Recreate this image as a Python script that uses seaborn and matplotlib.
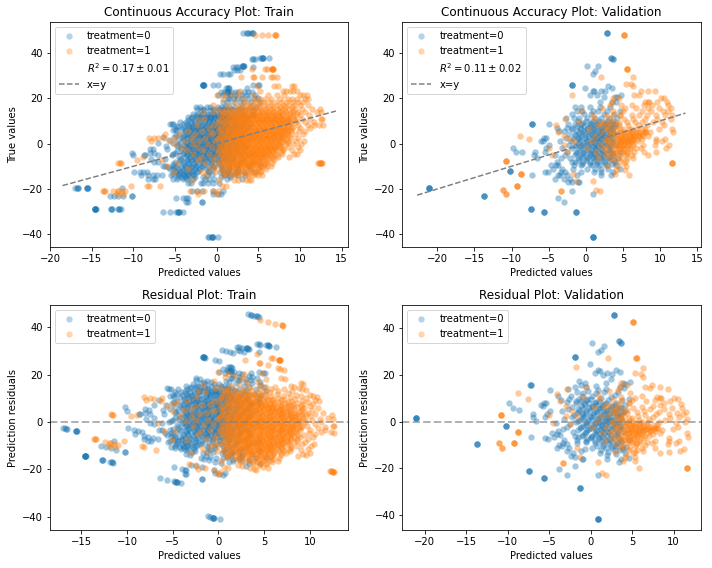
import matplotlib
matplotlib.use("Agg")
import matplotlib.pyplot as plt
from matplotlib.lines import Line2D
import pandas as pd
import seaborn as sns

# Observed outcome levels and the model predictions recorded at each level.
train0_true = [48.8, 37.8, 37.2, 34.2, 33.8, 32.5, 30.8, 25.7, 24.5, 22.8, 21.3, 20, 18.2, 16, 14.6, 13.2,
               11.8, 10.4, 8.6, 7.2, 5.8, 4.4, 3, 1.6, 0.2, -1.2, -2.6, -4, -5.2, -6.6, -8, -9.8, -11.2,
               -12.6, -14, -15.6, -17.2, -19.5, -21, -22, -23, -24, -25.7, -28.8, -30, -41]
train0_pred = [
    [3.2, 3.6, 3.9, 4.2, 4.4],
    [5.2, 5.4, 5.5, 6.3],
    [4.2, 4.4, 4.6],
    [3.0, 3.1, 3.3],
    [2.0, 2.3, 2.6, 4.4],
    [2.1, 2.4, 2.8],
    [0.4, 0.8, 1.3, 1.6],
    [-1.7, -1.6, -1.5, -0.4, 0.1, 4.4, 4.9, 5.1],
    [1.1, 1.3, 1.4, 1.5, 3.6],
    [0.5, 0.9, 1.2, 1.4, 1.7, 2.2, 2.6, 3.3, 3.7, 4.2],
    [0.1, 0.7, 1.6, 2.2, 3.0, 3.6, 4.6],
    [1.4, 1.5, 2.1, 2.4, 3.0, 3.7, 4.5, 5.0],
    [0.8, 1.2, 1.9, 2.8, 3.3, 4.1, 5.2],
    [-2.5, -2.0, -1.2, -0.8, 0.1, 0.6, 1.0, 1.5, 2.2, 3.0, 4.0, 4.7],
    [-1.9, -1.5, -0.8, -0.3, 0.4, 0.9, 1.3, 1.9, 2.6, 3.4, 4.4],
    [-2.8, -2.2, -1.6, -1.1, -0.5, 0.0, 0.5, 1.1, 1.7, 2.4, 3.1, 4.2],
    [-3.5, -3.0, -2.4, -1.9, -1.3, -0.7, -0.2, 0.3, 0.8, 1.4, 2.0, 2.9, 3.7],
    [-3.4, -2.7, -2.1, -1.4, -0.9, -0.4, 0.2, 0.7, 1.2, 1.8, 2.5, 3.3],
    [-5.6, -5.4, -5.2, -4.1, -3.6, -3.0, -2.3, -1.7, -1.1, -0.6, -0.1, 0.5, 1.0, 1.6, 2.3, 3.1, 4.0],
    [-4.6, -4.0, -3.3, -2.8, -2.2, -1.5, -0.9, -0.3, 0.1, 0.6, 1.2, 1.9, 2.8, 3.6],
    [-5.3, -4.9, -3.8, -3.2, -2.6, -2.1, -1.6, -1.0, -0.5, 0.0, 0.4, 1.0, 1.7, 2.4, 3.4],
    [-4.5, -3.6, -3.0, -2.4, -1.8, -1.2, -0.8, -0.2, 0.3, 0.9, 1.5, 2.2, 3.2, 4.2],
    [-6.5, -5.1, -4.2, -3.4, -2.7, -2.1, -1.5, -1.0, -0.4, 0.1, 0.6, 1.3, 2.0, 3.0],
    [-5.7, -4.7, -3.9, -3.1, -2.4, -1.8, -1.2, -0.7, -0.1, 0.4, 1.0, 1.8, 2.7, 3.8],
    [-7.0, -5.3, -4.4, -3.6, -2.9, -2.3, -1.7, -1.1, -0.6, 0.0, 0.5, 1.2, 2.1, 3.1],
    [-6.1, -4.8, -3.7, -3.2, -2.5, -1.9, -1.4, -0.8, -0.3, 0.2, 0.8, 1.5, 2.4, 3.5],
    [-8.0, -7.6, -6.0, -4.3, -3.5, -2.8, -2.2, -1.6, -1.0, -0.5, 0.1, 0.7, 1.4, 2.2, 3.3],
    [-10.2, -8.0, -7.5, -5.0, -3.9, -3.2, -2.6, -2.0, -1.3, -0.7, -0.2, 0.4, 1.1, 1.9, 3.0, 4.3],
    [-10.0, -8.7, -8.6, -7.0, -5.4, -3.6, -2.9, -2.3, -1.7, -1.1, -0.4, 0.2, 0.9, 1.6, 2.6, 3.8],
    [-7.9, -6.2, -4.4, -3.3, -2.7, -2.0, -1.4, -0.8, -0.2, 0.5, 1.2, 2.0, 3.2],
    [-7.5, -7.0, -5.0, -4.1, -3.4, -2.6, -1.9, -1.2, -0.6, 0.1, 0.8, 1.7, 2.9, 4.4],
    [-6.5, -6.2, -5.2, -3.8, -3.1, -2.5, -1.8, -1.0, -0.3, 0.5, 1.3, 2.4, 3.7, 5.3],
    [-5.6, -5.2, -4.7, -4.0, -3.3, -2.6, -2.0, -1.2, -0.4, 0.6, 1.5, 2.6, 4.0],
    [-9.9, -9.2, -8.8, -8.4, -5.0, -4.4, -3.7, -3.0, -2.4, -0.9, 0.4, 1.4, 2.2, 3.3, 4.6],
    [-9.1, -8.2, -7.7, -7.2, -6.6, -5.5, -4.6, -3.9, -3.4, -2.7, -1.2, 0.9, 1.6, 2.6, 3.4],
    [-8.2, -7.7, -7.4, -5.2, -4.8, -4.1, -3.6, -2.9, -1.4, -0.9, -0.3, 1.2, 3.0],
    [-3.5, -3.1, -1.9, -1.6, -1.0, -0.4, 0.3],
    [-17.0, -16.7, -16.6, -15.6, -15.5, -11.4],
    [-3.0, -2.4, -1.8, -0.5, 0.7],
    [-0.4, 0.1, 0.5],
    [-12.8, -12.3, -11.8, -11.2, -10.2, -10.2],
    [-4.9, -4.0, -3.7, -3.5],
    [-3.7, -3.5, -1.8, -1.8],
    [-14.6, -14.6, -14.5, -12.7, -12.6, -11.9, -11.7, -11.5],
    [-6.4, -5.6, -4.9, -4.6, -4.5, -4.1],
    [-1.1, -0.9, -0.6, -0.5, 0.2],
]

# Further predictions in the crowded centre of the control arm, with repeats for stacked records.
train0_core_true = [25.7, 37.8, 34.2, 48.8, 22.8, 15.4, 12.6, 11.1, 9.5, 7.9, 6.5, 5.1, 3.7, 2.3, 0.9, -0.5, -1.9,
                    -3.3, -4.6, -5.9, -7.3, -8.9, -10.5, -11.9, -13.3, -14.8, -28.8, -19.5, -30, -41]
train0_core_pred = [
    [-1.7, -1.6, -1.7], [5.4, 5.5], [3.1, 3.2], [3.6, 4.2], [1.2, 1.4],
    [-0.5, 0.3, 0.9, 1.7, 2.8, -1.6, -2.4],
    [-2.5, -1.9, -1.2, -0.7, -0.3, 0.1, 0.5, 0.9, 1.4, 2.2, 3.0, 4.4],
    [-3.1, -2.2, -1.8, -1.2, -0.8, -0.3, 0.4, 0.8, 1.3, 1.7, 2.3, 3.6],
    [-4.4, -3.7, -3.1, -2.6, -2.0, -1.4, -0.9, -0.4, 0.2, 0.7, 1.2, 2.0, 2.6, 3.4],
    [-4.8, -3.4, -2.9, -2.4, -1.9, -1.3, -0.7, -0.2, 0.3, 0.8, 1.4, 2.1, 2.9],
    [-5.0, -4.2, -3.5, -2.8, -2.3, -1.7, -1.1, -0.6, 0.0, 0.6, 1.1, 1.8, 2.6],
    [-3.8, -3.2, -2.7, -2.2, -1.5, -1.0, -0.4, 0.1, 0.7, 1.3, 2.0, 3.0],
    [-4.9, -3.9, -3.3, -2.6, -2.0, -1.6, -0.9, -0.3, 0.2, 0.9, 1.5, 2.4],
    [-4.1, -3.6, -3.0, -2.4, -1.8, -1.2, -0.7, -0.1, 0.4, 1.0, 1.6, 2.7],
    [-3.7, -3.1, -2.6, -2.1, -1.5, -0.9, -0.5, 0.1, 0.6, 1.3, 2.2],
    [-4.6, -3.9, -3.3, -2.8, -2.2, -1.7, -1.1, -0.6, -0.1, 0.5, 1.0, 1.8, 2.9],
    [-4.2, -3.6, -3.0, -2.5, -1.9, -1.3, -0.8, -0.2, 0.4, 0.9, 1.6, 2.5],
    [-4.8, -3.7, -3.2, -2.7, -2.1, -1.5, -1.0, -0.4, 0.2, 0.8, 1.5, 2.3],
    [-5.2, -4.0, -3.4, -2.9, -2.3, -1.7, -1.1, -0.5, 0.1, 0.7, 1.4],
    [-4.5, -3.8, -3.2, -2.6, -2.0, -1.4, -0.8, -0.2, 0.6, 1.2, 2.0],
    [-4.3, -3.6, -3.1, -2.5, -1.8, -1.3, -0.6, 0.2, 1.0, 1.9],
    [-5.3, -4.6, -3.9, -3.3, -2.8, -2.2, -1.5, -0.7, 0.3, 1.3, 2.5],
    [-5.9, -5.0, -4.3, -3.7, -3.1, -2.5, -1.8, -0.5, 0.8, 1.8],
    [-4.8, -4.1, -3.5, -3.0, -2.3, -1.1, 0.7, 1.4, 2.6],
    [-5.3, -4.5, -4.0, -3.4, -2.8, -0.6, 1.0, 2.2],
    [-4.7, -4.2, -3.8, -3.3, -2.6, -1.7, 0.5, 1.6],
    [-14.6, -14.6, -14.6, -12.7, -11.7],
    [-16.8, -15.6, -15.6],
    [-4.7, -4.5],
    [-0.6, -0.6],
]

train1_true = [47.8, 33, 29.3, 25.5, 23.2, 21.2, 19.8, 18.2, 16.8, 15.2, 13.8, 12.4, 11, 9.6, 8.2, 6.8, 5.4, 4,
               2.6, 1.2, -0.2, -1.6, -3, -4.4, -5.8, -7.2, -8.5, -9.8, -11.2, -12.6, -14, -16, -18.5, -20.8, -22]
train1_pred = [
    [4.6, 5.4, 6.2, 7.0, 7.1],
    [4.2, 5.8, 6.0, 6.6, 6.6, 6.7],
    [2.9, 4.4, 4.5, 5.4, 6.5, 6.7, 7.2],
    [4.8, 6.9, 7.3, 9.0, 9.3],
    [2.8, 5.2, 7.9, 8.3, 8.8, 9.2, 9.6],
    [0.0, 1.0, 1.8, 2.6, 4.3, 6.2, 7.2, 8.1, 10.0, 10.4, 10.8],
    [0.7, 3.1, 4.7, 5.2, 5.8, 6.5, 7.6, 8.5, 9.0, 9.6, 10.6, 11.0],
    [2.2, 3.5, 4.4, 5.0, 5.7, 6.4, 7.1, 7.8, 8.4, 9.2, 9.8, 10.4],
    [-0.5, 1.4, 2.9, 3.7, 4.4, 5.1, 5.8, 6.5, 7.2, 7.9, 8.6, 9.3, 10.0, 10.9],
    [0.2, 1.1, 2.0, 2.8, 3.4, 4.0, 4.6, 5.3, 5.9, 6.6, 7.3, 8.0, 8.7, 9.4, 10.2, 11.4, 12.4],
    [-1.7, -0.4, 0.9, 1.7, 2.4, 3.1, 3.8, 4.4, 5.0, 5.6, 6.2, 6.9, 7.6, 8.3, 9.0, 9.8, 10.6, 12.0, 12.5],
    [0.4, 1.3, 2.1, 2.8, 3.3, 3.9, 4.5, 5.1, 5.7, 6.3, 7.0, 7.7, 8.4, 9.1, 10.0, 11.1],
    [-2.2, -1.5, 0.6, 1.5, 2.2, 2.9, 3.5, 4.1, 4.7, 5.3, 5.9, 6.5, 7.1, 7.8, 8.5, 9.3, 10.2, 11.2, 12.5, 12.6],
    [0.1, 1.0, 1.8, 2.5, 3.1, 3.7, 4.3, 4.9, 5.5, 6.1, 6.7, 7.3, 7.9, 8.6, 9.5, 10.6, 11.7],
    [-2.4, -0.5, 0.9, 1.7, 2.4, 3.0, 3.6, 4.2, 4.8, 5.4, 6.0, 6.6, 7.2, 7.9, 8.7, 9.7, 10.9, 11.7, 12.3, 12.7],
    [-0.9, 0.5, 1.3, 2.0, 2.7, 3.3, 3.9, 4.5, 5.1, 5.7, 6.3, 6.9, 7.5, 8.2, 9.0, 10.0, 11.2],
    [-3.4, -1.8, 0.3, 1.1, 1.9, 2.6, 3.2, 3.8, 4.4, 5.0, 5.6, 6.2, 6.8, 7.4, 8.1, 8.9, 9.9, 10.6],
    [-6.2, -4.5, -2.6, -0.8, 0.6, 1.4, 2.1, 2.8, 3.4, 4.0, 4.6, 5.2, 5.8, 6.4, 7.0, 7.7, 8.5, 9.4, 10.3],
    [-8.1, -7.5, -7.0, -6.3, -5.0, -3.0, -1.4, 0.2, 1.0, 1.7, 2.4, 3.0, 3.6, 4.2, 4.8, 5.4, 6.0, 6.6, 7.3, 8.0, 8.9, 9.8],
    [-7.9, -5.6, -3.8, -2.1, -0.2, 0.7, 1.5, 2.2, 2.9, 3.5, 4.1, 4.7, 5.3, 5.9, 6.5, 7.1, 7.8, 8.6, 9.5, 10.5],
    [-5.0, -2.9, -1.1, 0.4, 1.2, 1.9, 2.6, 3.2, 3.8, 4.4, 5.0, 5.6, 6.2, 6.8, 7.5, 8.3, 9.2, 10.1],
    [-4.2, -2.4, -0.6, 0.6, 1.4, 2.1, 2.8, 3.4, 4.0, 4.6, 5.2, 5.8, 6.4, 7.0, 7.7, 8.6, 9.8],
    [-3.6, -1.6, 0.2, 0.9, 1.7, 2.4, 3.0, 3.6, 4.2, 4.8, 5.4, 6.0, 6.6, 7.2, 8.0, 9.0, 10.0],
    [-2.8, -0.9, 0.5, 1.2, 2.0, 2.7, 3.3, 3.9, 4.5, 5.1, 5.7, 6.3, 7.0, 7.8, 9.3, 9.6],
    [-8.9, -1.9, -0.2, 0.7, 1.5, 2.2, 2.9, 3.5, 4.1, 4.7, 5.3, 5.9, 6.6, 7.4, 8.7],
    [-9.6, -6.6, -2.2, -0.5, 0.9, 1.7, 2.4, 3.0, 3.6, 4.2, 4.8, 5.4, 6.1, 6.9],
    [-11.8, -11.6, -11.5, -4.8, -1.4, 0.3, 1.1, 1.9, 2.6, 3.2, 3.8, 4.4, 5.1, 5.8, 6.6, 12.2, 12.4, 12.5, 12.6],
    [-6.0, -0.5, 0.8, 1.6, 2.3, 3.0, 3.7, 4.4, 5.2, 6.0, 6.5],
    [-3.4, -0.9, 0.5, 1.3, 2.0, 2.8, 3.5, 4.2, 5.0, 5.9],
    [-5.1, -1.8, -0.2, 1.0, 1.9, 2.6, 3.4, 4.3, 5.2],
    [-1.3, 0.8, 1.7, 2.4, 3.8, 4.4, 4.9, 5.4],
    [-3.0, 0.3, 2.1, 2.6, 3.5, 3.9, 4.1],
    [-10.3, -8.4, -8.1, -6.8, 0.6, 1.1],
    [-13.6, -13.4, -12.4, -11.9, -11.4, -11.0, -3.2, -2.4, -1.5, -0.5, 0.2],
    [-12.0, -11.3, -2.2, 0.0],
]

# Additional treated-arm predictions filling the saturated central mass.
train1_core_true = [47.8, 33, 15.9, 14.5, 13.1, 11.7, 10.3, 8.9, 7.5, 6.1, 4.7, 3.3, 1.9, 0.5, -0.9, -2.3, -3.7, -5.1,
                    -6.5, -7.9, -9.2, -10.5, -11.9, -13.3, -8.5, -20.8,
                    12.1, 10.9, 9.3, 7.1, 5.6, 3.9, 2.9, 1.5, -0.5, -1.9, -3.3, -4.7, -6.1, -7.5, -9.5]
train1_core_pred = [
    [7.0], [6.6, 6.7],
    [2.6, 3.2, 3.9, 4.6, 5.2, 6.0, 6.8, 7.6, 8.2, 9.0],
    [0.8, 1.6, 2.2, 2.9, 3.5, 4.1, 4.8, 5.4, 6.1, 6.8, 7.5, 8.2, 9.1],
    [0.6, 1.3, 2.0, 2.6, 3.2, 3.8, 4.4, 5.0, 5.6, 6.2, 6.8, 7.4, 8.0, 8.8, 9.6],
    [1.0, 1.7, 2.4, 3.0, 3.6, 4.2, 4.8, 5.4, 6.0, 6.6, 7.2, 7.8, 8.5, 9.2],
    [0.3, 1.2, 1.9, 2.6, 3.2, 3.8, 4.4, 5.0, 5.6, 6.2, 6.8, 7.4, 8.0, 8.7, 9.5],
    [0.8, 1.5, 2.2, 2.8, 3.4, 4.0, 4.6, 5.2, 5.8, 6.4, 7.0, 7.6, 8.2, 8.9],
    [0.2, 1.1, 1.8, 2.5, 3.1, 3.7, 4.3, 4.9, 5.5, 6.1, 6.7, 7.3, 7.9, 8.5, 9.2],
    [0.5, 1.4, 2.1, 2.8, 3.4, 4.0, 4.6, 5.2, 5.8, 6.4, 7.0, 7.6, 8.2, 8.8],
    [-0.4, 0.9, 1.7, 2.4, 3.0, 3.6, 4.2, 4.8, 5.4, 6.0, 6.6, 7.2, 7.8, 8.4],
    [0.4, 1.2, 1.9, 2.6, 3.2, 3.8, 4.4, 5.0, 5.6, 6.2, 6.8, 7.4, 8.0, 8.7],
    [0.1, 0.8, 1.6, 2.3, 2.9, 3.5, 4.1, 4.7, 5.3, 5.9, 6.5, 7.1, 7.7, 8.3],
    [0.9, 1.7, 2.4, 3.0, 3.6, 4.2, 4.8, 5.4, 6.0, 6.6, 7.2, 7.9, 8.6],
    [0.3, 1.1, 1.9, 2.6, 3.2, 3.8, 4.4, 5.0, 5.6, 6.2, 6.9, 7.6],
    [0.7, 1.5, 2.2, 2.8, 3.4, 4.0, 4.6, 5.2, 5.8, 6.4, 7.1, 7.9],
    [0.2, 1.0, 1.8, 2.5, 3.1, 3.7, 4.3, 4.9, 5.5, 6.1, 6.8, 7.7],
    [0.6, 1.4, 2.1, 2.8, 3.4, 4.0, 4.6, 5.2, 5.8, 6.5, 7.2],
    [0.9, 1.7, 2.4, 3.0, 3.6, 4.2, 4.8, 5.4, 6.1, 6.8],
    [0.4, 1.3, 2.1, 2.8, 3.4, 4.0, 4.7, 5.4, 6.0],
    [0.8, 1.6, 2.3, 3.0, 3.7, 4.4, 5.1, 5.8],
    [-0.2, 1.2, 2.0, 2.7, 3.4, 4.1, 4.9, 5.6],
    [0.6, 1.5, 2.4, 3.2, 4.0, 4.8, 5.3],
    [1.1, 2.2, 3.0, 3.8, 4.6],
    [12.3, 12.5],
    [-13.5, -11.9],
    [1.9, 2.7, 3.5, 4.3, 5.1, 5.9, 6.7, 7.5],
    [2.2, 3.0, 3.8, 4.6, 5.4, 6.2, 7.0, 7.8, 8.4],
    [1.6, 2.5, 3.3, 4.1, 4.9, 5.7, 6.5, 7.3, 8.1, 8.8],
    [2.0, 2.8, 3.6, 4.4, 5.2, 6.0, 6.8, 7.6, 8.4],
    [1.4, 2.3, 3.1, 3.9, 4.7, 5.5, 6.3, 7.1, 7.9, 8.6],
    [1.9, 2.7, 3.5, 4.3, 5.1, 5.9, 6.7, 7.5, 8.2],
    [1.2, 2.1, 2.9, 3.7, 4.5, 5.3, 6.1, 6.9, 7.7],
    [1.7, 2.5, 3.3, 4.1, 4.9, 5.7, 6.5, 7.3],
    [1.1, 2.0, 2.8, 3.6, 4.4, 5.2, 6.0, 6.8, 7.5],
    [1.5, 2.3, 3.1, 3.9, 4.7, 5.5, 6.3, 7.0],
    [0.9, 1.8, 2.6, 3.4, 4.2, 5.0, 5.8, 6.5],
    [1.3, 2.1, 2.9, 3.7, 4.5, 5.3, 6.0],
    [1.7, 2.5, 3.3, 4.1, 4.9, 5.6],
    [1.0, 1.9, 2.7, 3.5, 4.3, 5.1],
    [1.4, 2.3, 3.1, 3.9, 4.7],
]

val0_true = [48.7, 37.8, 37.2, 34, 34.2, 32, 30.8, 25.7, 25.2, 24.6, 23, 21.5, 20.5, 18.5, 16, 14.5, 13, 11.2, 9.8, 8.5, 7,
             5.5, 4, 2.5, 1, -0.5, -2, -3.5, -5, -6.5, -8, -9.5, -11, -12.5, -14, -15.5, -17, -19.5, -20.8, -22, -23.2,
             -24, -25.7, -28.8, -30, -41, -12]
val0_pred = [
    [2.8, 2.8, 2.8], [3.4, 3.4], [3.6, 3.6], [0.2], [1.6], [1.3], [0.9], [-1.9, -1.9, -1.9], [3.0], [-0.1, 3.5], [0.9, 1.1, 2.0, 2.6],
    [0.5, 1.5, 4.7], [2.4, 3.9, 4.2], [1.9, 3.5, 4.0],
    [-1.4, -0.7, 0.6, 1.9, 3.3], [-1.2, -0.5, 0.9, 1.6, 2.9, 4.6], [-1.9, -0.3, 0.7, 2.4, 3.8],
    [-2.7, -1.6, -0.9, 0.2, 1.2, 2.1, 3.1, 4.2], [-1.1, 0.0, 1.0, 1.8, 2.9, 3.7],
    [-7.3, -7.2, -7.2, -4.9, -2.4, -1.4, -0.6, 0.5, 1.4, 2.4, 3.2, 4.1], [-3.9, -2.6, -1.8, -0.8, 0.3, 1.1, 2.0, 2.8, 3.6],
    [-3.6, -2.9, -1.2, -0.2, 0.8, 1.6, 2.2, 3.3], [-2.3, -1.5, -0.5, 0.4, 1.3, 2.0, 2.7, 3.8],
    [-5.6, -5.4, -2.7, -1.1, -0.1, 0.9, 1.7, 2.4, 3.1], [-6.0, -5.8, -3.5, -2.0, -0.8, 0.2, 1.0, 1.8, 2.6, 3.5],
    [-4.9, -2.3, -1.3, -0.4, 0.5, 1.4, 2.1, 2.9, 4.0], [-9.8, -5.3, -3.2, -1.8, -0.6, 0.3, 1.2, 2.0, 3.3],
    [-9.4, -8.6, -6.9, -5.5, -2.5, -1.2, -0.2, 0.7, 1.6, 2.4, 3.4, 4.6], [-7.0, -4.2, -2.8, -1.5, -0.5, 0.6, 1.4, 2.3, 3.7],
    [-6.6, -3.3, -2.1, -0.9, 0.1, 1.0, 1.9, 3.0, 4.3], [-3.9, -1.9, -1.5, -0.4, 0.5, 1.5, 2.5, 3.9],
    [-4.7, -4.0, -3.7, -1.6, -0.6, 0.8, 1.8, 2.9, 4.1], [-4.4, -3.2, -1.7, 0.2, 1.3, 2.1, 3.0, 4.6],
    [-5.5, -5.1, -3.3, -2.8, -0.7, 1.1, 2.0, 3.6], [-7.2, -3.8, -3.5, -2.6, -1.2, 2.0, 3.4],
    [-4.1, -2.9, -2.1], [-2.4, -1.9, -1.0, -0.9], [-21.1, -21.1, -21.1, -21.1], [-1.9], [0.9], [-13.7, -13.7, -13.7], [-3.8], [-2.9], [-7.4, -7.4, -7.4],
    [-5.6, -5.6, -5.6, -1.3, -1.3, -1.3], [0.9, 0.9, 0.9, 0.9], [-10.2, -10.2, -10.2],
]

# Second pass over the crowded centre of the validation control arm.
val0_core_true = [9.2, 7.8, 6.3, 4.8, 3.2, 1.8, 0.3, -1.2, -2.8, -4.2, -5.8, -7.2, -8.8]
val0_core_pred = [
    [-0.4, 0.7, 1.6, 2.6, 3.5],
    [-1.2, -0.2, 0.6, 1.4, 2.3, 3.1, 3.9],
    [-1.8, -0.7, 0.2, 1.0, 1.9, 2.7, 3.4],
    [-0.9, -0.1, 0.7, 1.5, 2.2, 3.0, 3.7],
    [-1.4, -0.6, 0.3, 1.1, 1.8, 2.5, 3.3],
    [-1.7, -0.9, 0.0, 0.8, 1.4, 2.1, 2.9, 3.6],
    [-1.1, -0.3, 0.6, 1.2, 1.9, 2.7, 3.5],
    [-1.5, -0.6, 0.2, 0.9, 1.6, 2.4, 3.2],
    [-0.9, 0.0, 0.8, 1.4, 2.2, 3.1],
    [-1.3, -0.4, 0.5, 1.3, 2.0, 2.8, 3.6],
    [-0.7, 0.2, 1.0, 1.7, 2.5, 3.2],
    [-1.0, 0.0, 1.2, 2.2, 3.1, 3.8],
    [-0.5, 0.5, 1.5, 2.6, 3.5],
]

val1_true = [47.7, 33, 29.3, 26.4, 25.5, 23.2, 21.5, 20.2, 18.5, 17, 15.5, 14.2, 12.5, 11, 9.5, 8, 6.5, 5, 3.5, 2.2, 1, -0.5,
             -2, -3.6, -5, -6.5, -7.8, -8.5, -10, -11.5, -13.2, -14, -16.5, -18.5, -20.5, -21, -22]
val1_pred = [
    [5.1, 5.1, 5.1], [5.5, 5.5, 5.6], [2.1, 6.3], [5.4, 6.1], [6.3], [7.4, 8.3, 9.3], [-1.8, 6.5, 7.2], [3.7, 4.4, 10.1, 10.5],
    [3.5, 8.0, 8.4, 8.5, 9.6, 10.9], [3.3, 4.7, 6.2, 7.8, 8.9, 11.0], [2.2, 5.3, 6.7, 8.3, 9.8, 11.5],
    [-0.6, 3.6, 5.0, 7.5, 8.8, 10.4, 11.1], [0.9, 2.7, 4.6, 6.2, 7.2, 8.2, 9.4, 10.7, 11.6],
    [-2.8, 1.1, 3.3, 5.1, 6.4, 7.9, 9.6, 11.4], [-0.9, 2.4, 3.9, 5.6, 6.6, 7.5, 9.0, 10.3],
    [-4.0, 1.6, 3.0, 4.4, 5.7, 7.0, 8.2, 10.5], [0.4, 2.8, 4.0, 5.0, 5.8, 6.9, 8.0, 9.9, 11.6], [-3.7, 2.1, 3.6, 4.6, 5.5, 6.4, 7.2, 7.9, 8.6, 11.7],
    [-8.8, -3.0, 1.3, 3.3, 4.5, 5.2, 5.9, 6.5, 7.1, 7.7, 8.3], [-7.6, -2.2, 2.7, 4.3, 5.0, 5.7, 6.3, 6.9, 7.5, 9.4, 10.7],
    [-1.6, 0.8, 3.2, 4.7, 5.5, 6.2, 7.0, 9.5, 10.3], [-3.0, 1.9, 3.8, 4.5, 5.1, 5.7, 6.4, 7.7, 9.3, 11.2],
    [-5.0, 0.2, 2.6, 4.1, 4.6, 5.2, 5.9, 6.8, 7.4, 10.8], [-2.5, 1.4, 3.4, 4.2, 5.0, 5.6, 6.5, 7.8, 9.4],
    [-4.5, 2.6, 3.7, 4.4, 5.4, 6.2, 8.4], [1.7, 3.1, 3.9, 4.8, 5.6, 6.3], [-10.8, -10.8, -10.8, 3.6, 4.6, 5.4],
    [11.6, 11.6, 11.6, 5.1], [2.9, 4.3, 5.4], [4.1, 5.3], [-8.7, -8.7, -8.7, -1.7, 3.9], [5.8], [0.9, -1.3], [-9.2, -9.2, -9.2],
    [-11.1, -11.1, 1.4], [-3.3, -3.3, 1.9], [-10.7, -10.7],
]

# Second pass over the dense band of the validation treated arm.
val1_core_true = [6.2, 5.2, 4.2, 3.2, 2.2, 1.2, 0.2, -1.2, -2.6, -4.0, 12.5, 9.2, 7.6]
val1_core_pred = [
    [3.0, 4.6, 6.2, 7.6],
    [3.7, 5.0, 5.9, 6.8, 7.8, 8.1],
    [3.2, 4.3, 5.1, 5.8, 6.4, 7.0, 7.5],
    [3.9, 4.7, 5.3, 5.9, 6.5, 7.1],
    [2.6, 4.2, 4.8, 5.3, 5.8, 6.3],
    [3.5, 4.4, 4.9, 5.5, 6.0],
    [2.9, 4.0, 4.6, 5.1, 5.7, 6.4],
    [3.3, 4.3, 4.9, 5.6],
    [2.4, 3.7, 4.5, 5.2, 6.0],
    [3.0, 3.9, 4.8, 5.5],
    [3.6, 4.6],
    [1.9, 3.2, 4.4],
    [2.5, 3.8],
]

r2_train = "$R^2 = 0.17 \\pm 0.01$"
r2_val = "$R^2 = 0.11 \\pm 0.02$"


def rows(levels, preds, treatment):
    table = pd.DataFrame({"true": levels, "pred": preds}).explode("pred")
    table["pred"] = table["pred"].astype(float)
    table["resid"] = table["true"] - table["pred"]
    table["treatment"] = treatment
    return table


train_groups = [rows(train0_true + train0_core_true, train0_pred + train0_core_pred, 0),
                rows(train1_true + train1_core_true, train1_pred + train1_core_pred, 1)]
val_groups = [rows(val0_true + val0_core_true, val0_pred + val0_core_pred, 0),
              rows(val1_true + val1_core_true, val1_pred + val1_core_pred, 1)]
colors = ["#1f77b4", "#ff7f0e"]


def scatter(ax, groups, y):
    for group, color in zip(groups, colors):
        sns.scatterplot(data=group, x="pred", y=y, ax=ax, color=color, alpha=0.42, s=40, linewidth=0, legend=False)
    ax.set_xlabel("Predicted values")


def treatment_handles():
    return [Line2D([], [], ls="", marker="o", ms=6.3, mew=0, color=c, alpha=0.33, label=f"treatment={i}")
            for i, c in enumerate(colors)]


def accuracy(ax, groups, title, r2, line, xlim):
    scatter(ax, groups, "true")
    diagonal, = ax.plot(line, line, ls="--", color="gray", lw=1.5, label="x=y")
    blank = Line2D([], [], ls="", label=r2)
    ax.legend(handles=treatment_handles() + [blank, diagonal], loc="upper left")
    ax.set_title(title)
    ax.set_ylabel("True values")
    ax.set_xlim(xlim)
    ax.set_ylim(-45.6, 53.5)


def residual(ax, groups, title, xlim, ylim):
    scatter(ax, groups, "resid")
    ax.axhline(0, ls="--", color="gray", lw=2, alpha=0.6)
    ax.legend(handles=treatment_handles(), loc="upper left")
    ax.set_title(title)
    ax.set_ylabel("Prediction residuals")
    ax.set_xlim(xlim)
    ax.set_ylim(ylim)


fig, axes = plt.subplots(2, 2, figsize=(712 / 72, 568 / 72), dpi=72)
accuracy(axes[0, 0], train_groups, "Continuous Accuracy Plot: Train", r2_train, [-18.5, 14.3], (-20.04, 15.8))
accuracy(axes[0, 1], val_groups, "Continuous Accuracy Plot: Validation", r2_val, [-22.7, 13.4], (-24.7, 15.5))
residual(axes[1, 0], train_groups, "Residual Plot: Train", (-18.47, 14.23), (-45.8, 49.4))
residual(axes[1, 1], val_groups, "Residual Plot: Validation", (-22.7, 13.3), (-46.7, 50))
fig.subplots_adjust(left=49.7 / 712, right=701 / 712, top=1 - 22 / 568, bottom=1 - 530.3 / 568,
                    wspace=53.9 / 298.7, hspace=58 / 225.2)
fig.savefig("out.png", dpi=72)
